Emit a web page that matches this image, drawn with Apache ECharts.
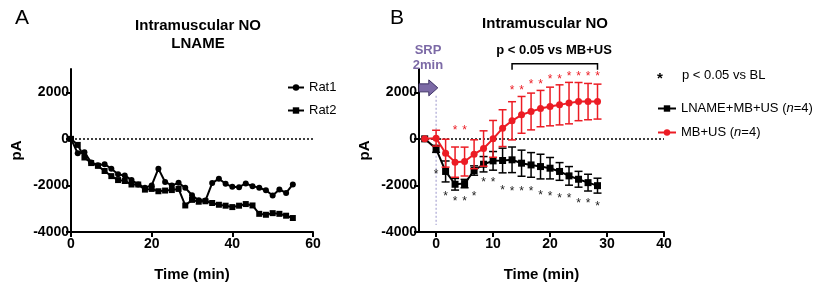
<!DOCTYPE html>
<html>
<head>
<meta charset="utf-8">
<script src="https://cdn.jsdelivr.net/npm/echarts@6/dist/echarts.min.js"></script>
<style>
  html, body { margin: 0; padding: 0; background: #fff; }
  #chart { width: 820px; height: 288px; }
</style>
</head>
<body>
<div id="chart"></div>
<script>
// panel A: LNAME, individual rats (sampled every 100 s)
var ratTime = [0, 1.67, 3.33, 5, 6.67, 8.33, 10, 11.67, 13.33, 15, 16.67, 18.33, 20, 21.67, 23.33, 25, 26.67,
    28.33, 30, 31.67, 33.33, 35, 36.67, 38.33, 40, 41.67, 43.33, 45, 46.67, 48.33, 50, 51.67, 53.33, 55];
var rat1 = [0, -620, -580, -1010, -1130, -1090, -1280, -1520, -1570, -1770, -1960, -2100, -2000, -1280, -1850,
    -2000, -1890, -2100, -2420, -2640, -2650, -1900, -1710, -1930, -2060, -2075, -1915, -2030, -2100, -2205,
    -2435, -2175, -2320, -1960];
var rat2 = [0, -260, -800, -1040, -1160, -1380, -1600, -1770, -1810, -1960, -1960, -2180, -2150, -2250, -2220,
    -2200, -2150, -2860, -2620, -2700, -2680, -2755, -2830, -2870, -2930, -2870, -2800, -2860, -3220, -3260,
    -3190, -3220, -3300, -3400];

// panel B: group means +- SEM
var grpTime = [-2, 0, 1.67, 3.33, 5, 6.67, 8.33, 10, 11.67, 13.33, 15, 16.67, 18.33, 20, 21.67, 23.33, 25, 26.67, 28.33];
var lnameMean = [0, -430, -1400, -1950, -1920, -1360, -1090, -945, -930, -900, -1045, -1120, -1190, -1260, -1400,
    -1590, -1735, -1880, -2010];
var lnameErr = [0, 150, 450, 250, 180, 200, 330, 400, 530, 550, 560, 530, 530, 460, 380, 400, 340, 360, 320];
var usMean = [0, 30, -615, -1000, -975, -660, -415, 0, 460, 775, 1030, 1175, 1300, 1390, 1460, 1535, 1600, 1600, 1600];
var usErr = [0, 340, 600, 650, 620, 620, 760, 790, 790, 820, 790, 790, 780, 830, 860, 890, 820, 780, 750];

// significance marks (where the asterisks sit)
var blStarTime = [0, 1.67, 3.33, 5, 6.67, 8.33, 10, 11.67, 13.33, 15, 16.67, 18.33, 20, 21.67, 23.33, 25, 26.67, 28.33];
var blStarY = [-1430, -2365, -2580, -2580, -2365, -1750, -1750, -2110, -2150, -2150, -2150, -2320, -2365, -2440,
    -2440, -2650, -2650, -2800];
var usStarTime = [3.33, 5, 13.33, 15, 16.67, 18.33, 20, 21.67, 23.33, 25, 26.67, 28.33];
var usStarY = [490, 490, 2180, 2180, 2465, 2465, 2680, 2680, 2795, 2795, 2795, 2795];

var yTicks = [-4000, -2000, 0, 2000];
var xTicksB = [0, 10, 20, 30, 40];

var FONT = 'Liberation Sans, Arial, sans-serif';
var RED = '#ec1c24';
var PURPLE = '#7c6aa6';

function zip(xs, ys) {
    return xs.map(function (x, i) { return [x, ys[i]]; });
}

function barData(xs, m, e) {
    var out = [];
    xs.forEach(function (x, i) {
        if (e[i] > 0) out.push([x, m[i] - e[i], m[i] + e[i]]);
    });
    return out;
}

function errorBars(data, color, z) {
    return {
        type: 'custom', xAxisIndex: 1, yAxisIndex: 1, z: z, silent: true,
        data: data,
        renderItem: function (params, api) {
            var x = api.value(0);
            var lo = api.coord([x, api.value(1)]);
            var hi = api.coord([x, api.value(2)]);
            var w = 4;
            var st = { stroke: color, lineWidth: 1.5 };
            return {
                type: 'group', children: [
                    { type: 'line', shape: { x1: lo[0], y1: lo[1], x2: hi[0], y2: hi[1] }, style: st },
                    { type: 'line', shape: { x1: lo[0] - w, y1: lo[1], x2: lo[0] + w, y2: lo[1] }, style: st },
                    { type: 'line', shape: { x1: hi[0] - w, y1: hi[1], x2: hi[0] + w, y2: hi[1] }, style: st }
                ]
            };
        }
    };
}

function stars(data, color) {
    return {
        type: 'custom', xAxisIndex: 1, yAxisIndex: 1, z: 5, silent: true,
        data: data,
        renderItem: function (params, api) {
            var p = api.coord([api.value(0), api.value(1)]);
            return {
                type: 'text',
                style: { text: '*', x: p[0], y: p[1] + 3, align: 'center', verticalAlign: 'middle',
                    font: '12px ' + FONT, fill: color }
            };
        }
    };
}

function yAxis(idx, gap) {
    return {
        type: 'value', gridIndex: idx, min: -4000, max: 3000,
        name: 'pA', nameLocation: 'middle', nameGap: gap, nameRotate: 90,
        nameTextStyle: { fontFamily: FONT, fontWeight: 'bold', fontSize: 15, color: '#000' },
        axisLine: { show: true, onZero: false, lineStyle: { color: '#000', width: 2 } },
        axisTick: { show: true, length: 5, lineStyle: { width: 2 }, customValues: yTicks },
        axisLabel: {
            fontFamily: FONT, fontWeight: 'bold', fontSize: 14, color: '#000', margin: 2, customValues: yTicks,
            formatter: function (v) { return String(v); }
        },
        splitLine: { show: false }
    };
}

var xNameStyle = { fontFamily: FONT, fontWeight: 'bold', fontSize: 15, color: '#000' };
var xLabelStyle = { fontFamily: FONT, fontWeight: 'bold', fontSize: 14, color: '#000', margin: 5 };
var zeroLine = {
    silent: true, symbol: 'none', label: { show: false },
    lineStyle: { color: '#000', type: [2, 2], width: 1.5 },
    data: [{ yAxis: 0 }]
};

var chart = echarts.init(document.getElementById('chart'), null, { renderer: 'canvas' });

chart.setOption({
    backgroundColor: '#fff',
    animation: false,
    textStyle: { fontFamily: FONT },
    title: [
        { text: 'A', left: 10, top: 3, textStyle: { fontFamily: FONT, fontSize: 21, fontWeight: 'normal', color: '#000' } },
        { text: 'Intramuscular NO\nLNAME', left: 193, top: 12, textAlign: 'center',
            textStyle: { fontFamily: FONT, fontSize: 15, fontWeight: 'bold', color: '#000', lineHeight: 18 } },
        { text: 'B', left: 385, top: 3, textStyle: { fontFamily: FONT, fontSize: 21, fontWeight: 'normal', color: '#000' } },
        { text: 'Intramuscular NO', left: 540, top: 11, textAlign: 'center',
            textStyle: { fontFamily: FONT, fontSize: 15, fontWeight: 'bold', color: '#000' } },
        { text: 'p < 0.05 vs MB+US', left: 549, top: 39, textAlign: 'center',
            textStyle: { fontFamily: FONT, fontSize: 13, fontWeight: 'bold', color: '#000' } },
        { text: 'SRP\n2min', left: 423, top: 38, textAlign: 'center',
            textStyle: { fontFamily: FONT, fontSize: 13, fontWeight: 'bold', color: PURPLE, lineHeight: 15 } }
    ],
    legend: [
        {
            left: 282, top: 76, orient: 'vertical', itemWidth: 16, itemHeight: 8, itemGap: 10,
            data: ['Rat1', 'Rat2'],
            textStyle: { fontFamily: FONT, fontSize: 13, color: '#000' }
        },
        {
            left: 652, top: 97, orient: 'vertical', itemWidth: 18, itemHeight: 8, itemGap: 11,
            data: ['LNAME+MB+US', 'MB+US'],
            formatter: function (name) { return '{a|' + name + ' (}{i|n}{a|=4)}'; },
            textStyle: {
                fontFamily: FONT, fontSize: 13, color: '#000',
                rich: { a: { fontFamily: FONT, fontSize: 13 }, i: { fontFamily: FONT, fontSize: 13, fontStyle: 'italic' } }
            }
        }
    ],
    graphic: [
        { type: 'text', left: 657, top: 71, style: { text: '*', font: 'bold 15px ' + FONT, fill: '#000' } },
        { type: 'text', left: 682, top: 69, style: { text: 'p < 0.05 vs BL', font: '13px ' + FONT, fill: '#000' } }
    ],
    grid: [
        { left: 71, top: 69, width: 242, height: 163 },
        { left: 419, top: 69, width: 245, height: 163 }
    ],
    xAxis: [
        {
            type: 'value', gridIndex: 0, min: 0, max: 60, interval: 20,
            name: 'Time (min)', nameLocation: 'middle', nameGap: 35, nameTextStyle: xNameStyle,
            axisLine: { show: true, onZero: false, lineStyle: { color: '#000', width: 2 } },
            axisTick: { show: true, length: 5, lineStyle: { width: 2 } },
            axisLabel: xLabelStyle,
            splitLine: { show: false }
        },
        {
            type: 'value', gridIndex: 1, min: -3, max: 40,
            name: 'Time (min)', nameLocation: 'middle', nameGap: 35, nameTextStyle: xNameStyle,
            axisLine: { show: true, onZero: false, lineStyle: { color: '#000', width: 2 } },
            axisTick: { show: true, length: 5, lineStyle: { width: 2 }, customValues: xTicksB },
            axisLabel: Object.assign({ customValues: xTicksB }, xLabelStyle),
            splitLine: { show: false }
        }
    ],
    yAxis: [yAxis(0, 47), yAxis(1, 47)],
    series: [
        {
            name: 'Rat1', type: 'line', xAxisIndex: 0, yAxisIndex: 0, z: 4,
            data: zip(ratTime, rat1),
            symbol: 'circle', symbolSize: 6,
            lineStyle: { color: '#000', width: 2 }, itemStyle: { color: '#000' },
            markLine: zeroLine
        },
        {
            name: 'Rat2', type: 'line', xAxisIndex: 0, yAxisIndex: 0, z: 3,
            data: zip(ratTime, rat2),
            symbol: 'rect', symbolSize: 6,
            lineStyle: { color: '#000', width: 2 }, itemStyle: { color: '#000' }
        },
        // SRP arrow and its dashed guide
        {
            type: 'custom', xAxisIndex: 1, yAxisIndex: 1, z: 2, silent: true,
            data: [[0, 1850, -3700]],
            renderItem: function (params, api) {
                var a = api.coord([api.value(0), api.value(1)]);
                var b = api.coord([api.value(0), api.value(2)]);
                return { type: 'line', shape: { x1: a[0], y1: a[1], x2: b[0], y2: b[1] },
                    style: { stroke: '#9a96cc', lineWidth: 1, lineDash: [2, 2] } };
            }
        },
        {
            type: 'custom', xAxisIndex: 1, yAxisIndex: 1, z: 6, silent: true,
            data: [[-3, 0.3, 2190]],
            renderItem: function (params, api) {
                var t = api.coord([api.value(0), api.value(2)]);
                var h = api.coord([api.value(1), api.value(2)]);
                var neck = h[0] - 9, y = t[1];
                return {
                    type: 'polygon',
                    shape: { points: [[t[0], y - 4], [neck, y - 4], [neck, y - 8], [h[0], y], [neck, y + 8], [neck, y + 4], [t[0], y + 4]] },
                    style: { fill: PURPLE, stroke: '#3f3366', lineWidth: 1 }
                };
            }
        },
        // bracket for p < 0.05 vs MB+US
        {
            type: 'custom', xAxisIndex: 1, yAxisIndex: 1, z: 6, silent: true,
            data: [[13.33, 28.33, 3230, 2970]],
            renderItem: function (params, api) {
                var a = api.coord([api.value(0), api.value(2)]);
                var b = api.coord([api.value(1), api.value(2)]);
                var a2 = api.coord([api.value(0), api.value(3)]);
                var b2 = api.coord([api.value(1), api.value(3)]);
                return { type: 'polyline', shape: { points: [a2, a, b, b2] },
                    style: { stroke: '#000', lineWidth: 1.5, fill: null } };
            }
        },
        errorBars(barData(grpTime, lnameMean, lnameErr), '#000', 7),
        {
            name: 'LNAME+MB+US', type: 'line', xAxisIndex: 1, yAxisIndex: 1, z: 8,
            data: zip(grpTime, lnameMean),
            symbol: 'rect', symbolSize: 7,
            lineStyle: { color: '#000', width: 2 }, itemStyle: { color: '#000' },
            markLine: zeroLine
        },
        errorBars(barData(grpTime, usMean, usErr), RED, 9),
        {
            name: 'MB+US', type: 'line', xAxisIndex: 1, yAxisIndex: 1, z: 10,
            data: zip(grpTime, usMean),
            symbol: 'circle', symbolSize: 7,
            lineStyle: { color: RED, width: 2 }, itemStyle: { color: RED }
        },
        stars(zip(blStarTime, blStarY), '#222'),
        stars(zip(usStarTime, usStarY), RED)
    ]
});
</script>
</body>
</html>
